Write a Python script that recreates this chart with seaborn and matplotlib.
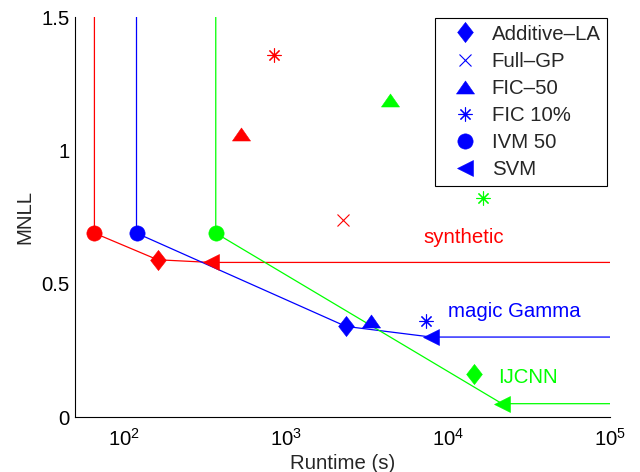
import numpy as np
import pandas as pd
import matplotlib
matplotlib.use("Agg")
import matplotlib.pyplot as plt
from matplotlib.lines import Line2D
from matplotlib.path import Path
from matplotlib.ticker import LogLocator, NullFormatter
import seaborn as sns

# ---- data: runtime (s) and MNLL per dataset, per method ----
datasets = ["synthetic", "magic Gamma", "IJCNN"]
colors = ["#ff0000", "#0000ff", "#00ff00"]

additive_rt = [162, 2350, 14500]
additive_mnll = [0.59, 0.34, 0.16]
fullgp_rt = [2250]            # synthetic only
fullgp_mnll = [0.74]
fic50_rt = [530, 3340, 4400]
fic50_mnll = [1.06, 0.36, 1.19]
fic10_rt = [850, 7300, 16500]
fic10_mnll = [1.36, 0.36, 0.82]
ivm_rt = [66, 120, 370]
ivm_mnll = [0.69, 0.69, 0.69]
svm_rt = [345, 7900, 21600]
svm_mnll = [0.58, 0.30, 0.05]

# methods lying on each dataset's trade-off frontier (besides IVM and SVM)
frontier_middle = [["Additive-LA"], ["Additive-LA"], []]

method_names = ["Additive-LA", "Full-GP", "FIC-50", "FIC 10%", "IVM 50", "SVM"]
legend_labels = ["Additive\u2013LA", "Full\u2013GP", "FIC\u201350", "FIC 10%", "IVM 50", "SVM"]

# MATLAB-like marker shapes
diamond = Path([(0, 1), (0.78, 0), (0, -1), (-0.78, 0), (0, 1)],
               [Path.MOVETO, Path.LINETO, Path.LINETO, Path.LINETO, Path.CLOSEPOLY])
triangle = Path([(-1, -0.72), (1, -0.72), (0, 0.72), (-1, -0.72)],
                [Path.MOVETO, Path.LINETO, Path.LINETO, Path.CLOSEPOLY])
markers = {"Additive-LA": diamond, "Full-GP": "x", "FIC-50": triangle,
           "FIC 10%": (8, 2, 0), "IVM 50": "o", "SVM": "<"}
msizes = {"Additive-LA": 14.5, "Full-GP": 8, "FIC-50": 13,
          "FIC 10%": 10, "IVM 50": 11, "SVM": 11.5}
thin = ("Full-GP", "FIC 10%")

x_min, x_max = 50, 1e5
y_min, y_max = 0, 1.5

rows = []
series = [
    ("Additive-LA", additive_rt, additive_mnll),
    ("Full-GP", fullgp_rt, fullgp_mnll),
    ("FIC-50", fic50_rt, fic50_mnll),
    ("FIC 10%", fic10_rt, fic10_mnll),
    ("IVM 50", ivm_rt, ivm_mnll),
    ("SVM", svm_rt, svm_mnll),
]
for method, rts, vals in series:
    for i, (rt, v) in enumerate(zip(rts, vals)):
        rows.append({"dataset": datasets[i], "method": method,
                     "runtime": rt, "mnll": v})
points = pd.DataFrame(rows)

sns.set_style("white")
plt.rcParams["font.family"] = ["Liberation Sans", "DejaVu Sans"]
plt.rcParams["mathtext.fontset"] = "custom"
plt.rcParams["mathtext.rm"] = "Liberation Sans"
plt.rcParams["mathtext.it"] = "Liberation Sans"

FS = 14.7

fig = plt.figure(figsize=(6.4, 4.72), dpi=100)
ax = fig.add_axes([0.117, 0.1165, 0.836, 0.847])

# frontier lines: vertical drop to IVM, through frontier methods, flat from SVM
for i, ds in enumerate(datasets):
    sub = points[points["dataset"] == ds].set_index("method")
    xs = [sub.loc["IVM 50", "runtime"]]
    ys = [y_max]
    for m in ["IVM 50"] + frontier_middle[i] + ["SVM"]:
        xs.append(sub.loc[m, "runtime"])
        ys.append(sub.loc[m, "mnll"])
    xs.append(x_max)
    ys.append(sub.loc["SVM", "mnll"])
    line_df = pd.DataFrame({"runtime": xs, "mnll": ys})
    sns.lineplot(data=line_df, x="runtime", y="mnll", sort=False, estimator=None,
                 color=colors[i], linewidth=0.9, ax=ax, legend=False)

# markers for each method
for m in method_names:
    sub = points[points["method"] == m]
    for _, r in sub.iterrows():
        c = colors[datasets.index(r["dataset"])]
        ax.plot([r["runtime"]], [r["mnll"]], linestyle="none",
                marker=markers[m], markersize=msizes[m], color=c,
                markeredgewidth=0.8 if m in thin else 0.4)

# dataset labels
label_pos = [(7050, 0.675), (10000, 0.395), (20400, 0.147)]
for i, ds in enumerate(datasets):
    ax.text(label_pos[i][0], label_pos[i][1], ds, color=colors[i],
            fontsize=FS, ha="left", va="center")

ax.set_xscale("log")
ax.set_xlim(x_min, x_max)
ax.set_ylim(y_min, y_max)
ax.set_yticks([0, 0.5, 1, 1.5])
ax.set_yticklabels(["0", "0.5", "1", "1.5"])
ax.set_xticks([1e2, 1e3, 1e4, 1e5])
ax.set_xticklabels([r"$10^{2}$", r"$10^{3}$", r"$10^{4}$", r"$10^{5}$"])
ax.xaxis.set_minor_locator(LogLocator(base=10, subs=np.arange(2, 10), numticks=20))
ax.xaxis.set_minor_formatter(NullFormatter())
ax.tick_params(axis="both", which="major", direction="in", length=5, width=0.8,
               labelsize=FS, colors="black")
ax.tick_params(axis="x", which="major", pad=8)
ax.tick_params(axis="y", which="major", pad=4)
ax.tick_params(axis="x", which="minor", direction="in", length=3, width=0.8)
ax.set_xlabel("Runtime (s)", fontsize=FS, labelpad=3)
ax.set_ylabel("MNLL", fontsize=FS, labelpad=5)

sns.despine(ax=ax)
for s in ["left", "bottom"]:
    ax.spines[s].set_color("black")
    ax.spines[s].set_linewidth(0.8)

handles = [Line2D([], [], linestyle="none", marker=markers[m],
                  markersize=msizes[m], color="#0000ff",
                  markeredgewidth=0.8 if m in thin else 0.4)
           for m in method_names]
leg = ax.legend(handles, legend_labels, loc="upper right",
                bbox_to_anchor=(0.994, 0.997), borderaxespad=0,
                fontsize=FS, frameon=True,
                fancybox=False, edgecolor="black", framealpha=1,
                labelspacing=0.4, handletextpad=0.15, borderpad=0.3,
                handlelength=2.34)
leg.get_frame().set_linewidth(0.8)

fig.savefig("out.png", dpi=100)
